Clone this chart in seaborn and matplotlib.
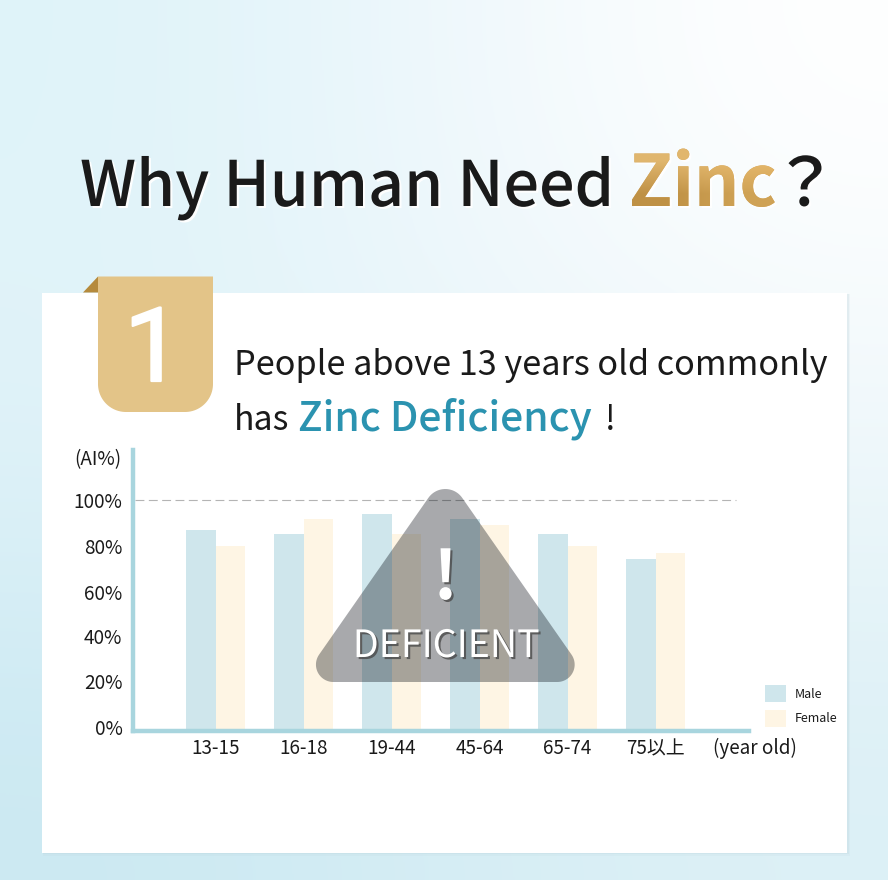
import numpy as np
import pandas as pd
import matplotlib
matplotlib.use("Agg")
import matplotlib.pyplot as plt
import matplotlib.patheffects as pe
from matplotlib.colors import to_rgb
from matplotlib.font_manager import FontProperties
from matplotlib.patches import Polygon, Rectangle
from matplotlib.textpath import TextPath
from matplotlib.transforms import Affine2D, ScaledTranslation
import seaborn as sns

age_groups = ["13-15", "16-18", "19-44", "45-64", "65-74", "75以上"]
male_values = [86.7, 84.8, 93.5, 91.6, 84.8, 74.0]
female_values = [79.9, 91.6, 84.8, 88.8, 79.9, 76.6]
y_ticks = [0, 20, 40, 60, 80, 100]
y_tick_labels = ["0%", "20%", "40%", "60%", "80%", "100%"]
series_names = ["Male", "Female"]
series_colors = ["#cfe6ec", "#fef5e4"]

W, H = 888, 880
sns.set_theme(style="white")
FONT = ["Noto Sans CJK JP", "DejaVu Sans"]
plt.rcParams["font.family"] = FONT
INK = "#1a1a1a"

fig = plt.figure(figsize=(W / 100, H / 100), dpi=100)


def px_axes(left, top, right, bottom, z):
    return fig.add_axes([left / W, 1 - bottom / H, (right - left) / W, (bottom - top) / H], zorder=z)


# ---- background layer
bg = px_axes(0, 0, W, H, 0)
bg.set_xlim(0, W)
bg.set_ylim(H, 0)
bg.axis("off")
grid = [["#dff3f9", "#eff8fc", "#ffffff"],
        ["#e1f3f9", "#ebf6fa", "#f0f8fb"],
        ["#cbe9f2", "#d5edf4", "#dcf0f6"]]
img = np.array([[to_rgb(c) for c in row] for row in grid])
bg.imshow(img, extent=(0, W, H, 0), aspect="auto", interpolation="bicubic", zorder=0)
for grow, a in [(3, 0.12), (1.5, 0.2)]:
    bg.add_patch(Rectangle((43, 294), 804 + grow, 559 + grow,
                           fc="#b5cfd8", ec="none", alpha=a, zorder=1))
bg.add_patch(Rectangle((42, 293), 805, 560, fc="white", ec="none", zorder=2))


def rounded_poly(corners, r, n=24):
    """Polygon outline with circular arcs at the given corners."""
    pts = []
    c = np.array(corners, float)
    m = len(c)
    for i in range(m):
        p, a, b = c[i], c[i - 1], c[(i + 1) % m]
        rad = r[i] if np.iterable(r) else r
        if rad == 0:
            pts.append(p)
            continue
        u = (a - p) / np.linalg.norm(a - p)
        v = (b - p) / np.linalg.norm(b - p)
        half = np.arccos(np.clip(u @ v, -1, 1)) / 2
        t = rad / np.tan(half)
        bis = (u + v) / np.linalg.norm(u + v)
        ctr = p + bis * rad / np.sin(half)
        s, e = p + u * t - ctr, p + v * t - ctr
        a0 = np.arctan2(s[1], s[0])
        a1 = np.arctan2(e[1], e[0])
        d = (a1 - a0 + np.pi) % (2 * np.pi) - np.pi
        for f in np.linspace(0, 1, n):
            ang = a0 + d * f
            pts.append(ctr + rad * np.array([np.cos(ang), np.sin(ang)]))
    return np.array(pts)


# ribbon
bg.add_patch(Polygon([(83, 292.5), (98, 276.5), (98, 292.5)], closed=True, fc="#b58a3c", ec="none", zorder=3))
bg.add_patch(Polygon(rounded_poly([(98, 276.5), (213, 276.5), (213, 412), (98, 412)], [0, 0, 28, 28]),
                     closed=True, fc="#e3c488", ec="none", zorder=3))

# ---- chart layer
ax = px_axes(132.75, 450, 749, 731, 1)
ax.patch.set_alpha(0)
df = pd.DataFrame({
    "age": age_groups * 2,
    "value": male_values + female_values,
    "sex": [series_names[0]] * len(age_groups) + [series_names[1]] * len(age_groups),
})
sns.barplot(data=df, x="age", y="value", hue="sex", hue_order=series_names,
            palette=series_colors, width=0.67, gap=0, saturation=1, errorbar=None,
            linewidth=0, ax=ax)
unit = 87.96
ax.set_xlim((132.75 - 215.7) / unit, (749 - 215.7) / unit)
ax.set_ylim((729.5 - 731) / 2.3, (729.5 - 450) / 2.3)
ax.set_xlabel("")
ax.set_ylabel("")
ax.set_yticks(y_ticks, y_tick_labels)
ax.tick_params(axis="y", length=0, pad=7.4, labelsize=13.6, labelcolor=INK)
ax.tick_params(axis="x", length=0, pad=5.2, labelsize=13.6, labelcolor=INK)
# the reference's labels sit slightly above their gridline positions
for lab, dy in zip(ax.get_yticklabels(), [3, 3, 2, 0, 0, 0]):
    lab.set_transform(lab.get_transform() + ScaledTranslation(0, dy / 100, fig.dpi_scale_trans))
for s in ["top", "right"]:
    ax.spines[s].set_visible(False)
for s in ["left", "bottom"]:
    ax.spines[s].set_color("#a8d5de")
    ax.spines[s].set_linewidth(3.2)
ax.axhline(100, xmin=0.004, xmax=(736 - 132.75) / (749 - 132.75), color="#b4b4b4", lw=0.8,
           dashes=(8, 4), zorder=1)
h, l = ax.get_legend_handles_labels()
ax.legend(h, l, loc="upper left", bbox_to_anchor=(765 / W, 1 - 685 / H), bbox_transform=fig.transFigure,
          frameon=False, fontsize=9, borderpad=0, borderaxespad=0, handlelength=1.68, handleheight=1.72,
          handletextpad=0.72, labelspacing=0.62, labelcolor=INK)

# ---- overlay layer
ov = px_axes(0, 0, W, H, 2)
ov.patch.set_alpha(0)
ov.set_xlim(0, W)
ov.set_ylim(H, 0)
ov.axis("off")

ov.add_patch(Polygon(rounded_poly([(445.3, 473.6), (590.6, 682), (300, 682)], [20.6, 17.4, 17.4]), closed=True,
                     fc=(0, 0.02, 0.05), alpha=0.34, ec="none", zorder=1))

white_shadow = [pe.withSimplePatchShadow(offset=(1.5, -1.5), shadow_rgbFace="white", alpha=0.95)]
dark_shadow = [pe.withSimplePatchShadow(offset=(1.5, -1.5), shadow_rgbFace="#4a4a4a", alpha=0.8)]


def put(x, y, s, size, color=INK, ha="left", va="baseline", **kw):
    return ov.text(x, y, s, fontsize=size, color=color, ha=ha, va=va, zorder=3, **kw)


put(80, 206, "Why Human Need", 45.2, weight="medium", path_effects=white_shadow)
ZINC_SIZE = 51
zinc_fp = FontProperties(family="Noto Sans CJK JP", weight="bold", size=ZINC_SIZE)
put(629, 206, "Zinc", ZINC_SIZE, color="#d2a55c", weight="bold", path_effects=white_shadow)
grad = np.array([[to_rgb("#e0b66e"), to_rgb("#e6b86c")],
                 [to_rgb("#bf9145"), to_rgb("#cfa255")]])
zinc_path = TextPath((0, 0), "Zinc", prop=zinc_fp)
zinc_tf = Affine2D().scale(100 / 72, -100 / 72).translate(629, 206) + ov.transData
zinc_im = ov.imshow(grad, extent=(628, 780, 210, 145), aspect="auto", interpolation="bilinear", zorder=4)
zinc_im.set_clip_path(zinc_path, zinc_tf)
ov.set_xlim(0, W)
ov.set_ylim(H, 0)
put(805, 206, "？", 48, ha="center", weight="medium", path_effects=white_shadow)

put(234, 375, "People above 13 years old commonly", 24.65)
put(234, 430, "has", 24.3)
put(298, 431, "Zinc Deficiency", 29.3, color="#2b93b0", weight="medium")
put(605, 430, "!", 24)

put(153, 381, "1", 74, color="white", ha="center", family=["Roboto"],
    path_effects=[pe.withStroke(linewidth=1.6, foreground="white")])

put(445.5, 599, "!", 48, color="white", ha="center", weight="bold", path_effects=dark_shadow)
put(446, 657, "DEFICIENT", 27.1, color="white", ha="center", path_effects=dark_shadow)

put(121, 460, "(AI%)", 13.6, ha="right", va="center")
put(713, 748, "(year old)", 13.6, va="center")

fig.savefig("out.png", dpi=100)
